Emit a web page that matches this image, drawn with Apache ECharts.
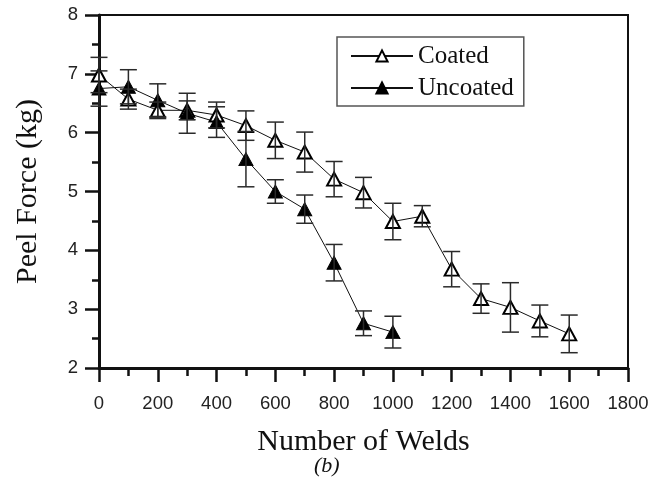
<!DOCTYPE html>
<html>
<head>
<meta charset="utf-8">
<script src="https://cdn.jsdelivr.net/npm/echarts@6/dist/echarts.min.js"></script>
<style>
  html, body { margin: 0; padding: 0; background: #fff; }
  #chart { width: 660px; height: 478px; }
</style>
</head>
<body>
<div id="chart"></div>
<script>
// Peel force vs. number of welds, coated and uncoated electrodes (mean ± error)
const welds = [0, 100, 200, 300, 400, 500, 600, 700, 800, 900, 1000, 1100, 1200, 1300, 1400, 1500, 1600];

const coated    = [6.98, 6.57, 6.38, 6.38, 6.30, 6.12, 5.87, 5.67, 5.21, 4.98, 4.49, 4.58, 3.68, 3.18, 3.03, 2.80, 2.58];
const coatedErr = [0.30, 0.17, 0.14, 0.16, 0.22, 0.25, 0.31, 0.34, 0.30, 0.26, 0.31, 0.18, 0.30, 0.25, 0.42, 0.27, 0.32];

const uncoated    = [6.75, 6.78, 6.55, 6.33, 6.18, 5.55, 5.00, 4.70, 3.79, 2.76, 2.61];
const uncoatedErr = [0.30, 0.29, 0.28, 0.34, 0.26, 0.47, 0.20, 0.24, 0.31, 0.21, 0.27];

const seriesNames = ['Coated', 'Uncoated'];
const xTitle = 'Number of Welds';
const yTitle = 'Peel Force (kg)';
const panelLabel = '(b)';

const pairs = (ys) => ys.map((v, i) => [welds[i], v]);
const bars = (ys, es) => ys.map((v, i) => [welds[i], v - es[i], v + es[i]]);

function renderErrorBar(params, api) {
  const x = api.value(0);
  const top = api.coord([x, api.value(2)]);
  const bot = api.coord([x, api.value(1)]);
  const hw = 8.5;
  const st = { stroke: '#2a2a2a', lineWidth: 1.5 };
  return {
    type: 'group',
    children: [
      { type: 'line', shape: { x1: top[0], y1: top[1], x2: bot[0], y2: bot[1] }, style: st },
      { type: 'line', shape: { x1: top[0] - hw, y1: top[1], x2: top[0] + hw, y2: top[1] }, style: st },
      { type: 'line', shape: { x1: bot[0] - hw, y1: bot[1], x2: bot[0] + hw, y2: bot[1] }, style: st }
    ]
  };
}

const chart = echarts.init(document.getElementById('chart'), null, { renderer: 'canvas' });

const axisFont = {
  fontFamily: '"Liberation Sans", Arial, sans-serif', fontSize: 18.5, color: '#222',
  formatter: (v) => String(v)
};
const serif = '"Liberation Serif", "Times New Roman", serif';

chart.setOption({
  animation: false,
  backgroundColor: '#fff',
  grid: {
    left: 99, top: 15, right: 32, bottom: 110,
    show: true, borderColor: '#111', borderWidth: 2, backgroundColor: 'transparent'
  },
  legend: {
    data: seriesNames,
    orient: 'vertical',
    left: 337, top: 37,
    padding: [5, 10, 4, 13],
    itemWidth: 62, itemHeight: 14, itemGap: 4,
    borderColor: '#555', borderWidth: 1.5,
    textStyle: { fontFamily: serif, fontSize: 25, color: '#111', lineHeight: 28 }
  },
  xAxis: {
    type: 'value', min: 0, max: 1800, interval: 200,
    name: xTitle, nameLocation: 'middle', nameGap: 59,
    nameTextStyle: { fontFamily: serif, fontSize: 30, color: '#111' },
    axisLine: { lineStyle: { color: '#111', width: 3 } },
    axisTick: { inside: false, length: 14, lineStyle: { color: '#111', width: 2.5 } },
    minorTick: { show: true, splitNumber: 2, length: 8, lineStyle: { color: '#111', width: 2.5 } },
    axisLabel: Object.assign({ margin: 26 }, axisFont),
    splitLine: { show: false }
  },
  yAxis: {
    type: 'value', min: 2, max: 8, interval: 1,
    name: yTitle, nameLocation: 'middle', nameGap: 56,
    nameTextStyle: { fontFamily: serif, fontSize: 30, color: '#111' },
    axisLine: { lineStyle: { color: '#111', width: 3 } },
    axisTick: { inside: false, length: 14, lineStyle: { color: '#111', width: 2.5 } },
    minorTick: { show: true, splitNumber: 2, length: 7, lineStyle: { color: '#111', width: 2.5 } },
    axisLabel: Object.assign({ margin: 21 }, axisFont),
    splitLine: { show: false }
  },
  graphic: [{
    type: 'text', left: 314, top: 455,
    style: { text: panelLabel, font: 'italic 22px ' + serif, fill: '#111' }
  }],
  series: [
    {
      name: seriesNames[0], type: 'line', data: pairs(coated),
      symbol: 'triangle', symbolSize: [14, 13],
      lineStyle: { color: '#111', width: 1 },
      itemStyle: { color: '#fff', borderColor: '#000', borderWidth: 2 },
      z: 3
    },
    {
      name: seriesNames[1], type: 'line', data: pairs(uncoated),
      symbol: 'triangle', symbolSize: [14, 13],
      lineStyle: { color: '#111', width: 1 },
      itemStyle: { color: '#000', borderColor: '#000', borderWidth: 1 },
      z: 3
    },
    {
      name: 'coatedErr', type: 'custom', renderItem: renderErrorBar,
      data: bars(coated, coatedErr), encode: { x: 0, y: [1, 2] }, z: 4, silent: true
    },
    {
      name: 'uncoatedErr', type: 'custom', renderItem: renderErrorBar,
      data: bars(uncoated, uncoatedErr), encode: { x: 0, y: [1, 2] }, z: 4, silent: true
    }
  ]
});
</script>
</body>
</html>
